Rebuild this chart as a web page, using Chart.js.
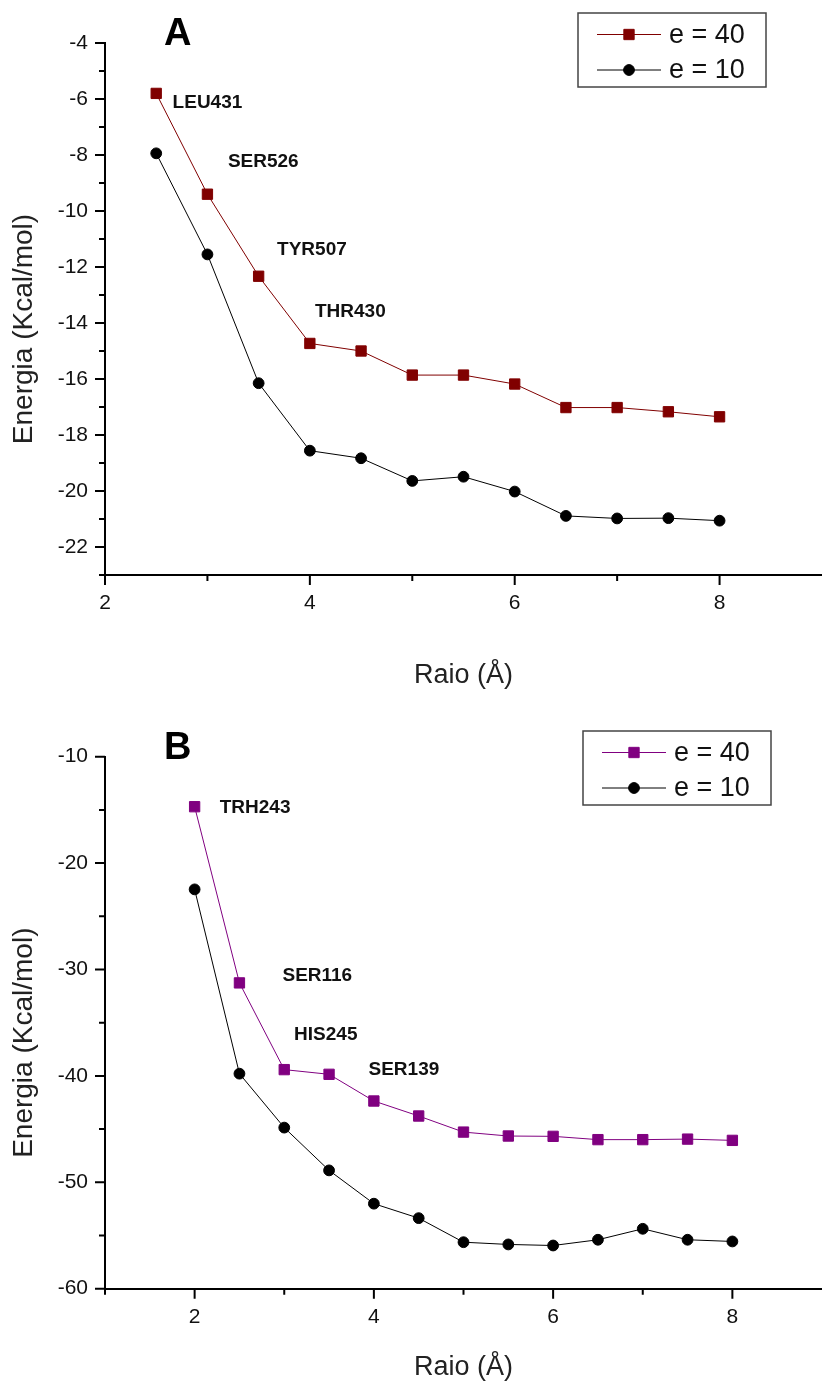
<!DOCTYPE html>
<html lang="pt">
<head>
<meta charset="UTF-8">
<title>Energia x Raio</title>
<style>
    body { margin: 0; background: #fff; }
    canvas { display: block; }
</style>
</head>
<body>
<canvas id="chartA" width="822" height="692"></canvas>
<canvas id="chartB" width="822" height="692"></canvas>

<script src="https://cdn.jsdelivr.net/npm/chart.js"></script>
<script>
    // painel A
    const radiiA = [2.5, 3, 3.5, 4, 4.5, 5, 5.5, 6, 6.5, 7, 7.5, 8];
    const energiaA40 = [-5.8, -9.4, -12.33, -14.73, -15.0, -15.86, -15.86, -16.18, -17.02, -17.02, -17.17, -17.35];
    const energiaA10 = [-7.94, -11.55, -16.15, -18.56, -18.83, -19.64, -19.49, -20.02, -20.89, -20.98, -20.97, -21.06];
    const xMajorA = [2, 4, 6, 8];
    const xMinorA = [3, 5, 7];
    const yMajorA = [-22, -20, -18, -16, -14, -12, -10, -8, -6, -4];
    const yMinorA = [-23, -21, -19, -17, -15, -13, -11, -9, -7, -5];
    const residuesA = ['LEU431', 'SER526', 'TYR507', 'THR430'];
    const residueXA = [2.66, 3.2, 3.68, 4.05];
    const residueYA = [-6.14, -8.25, -11.39, -13.6];

    // painel B
    const radiiB = [2, 2.5, 3, 3.5, 4, 4.5, 5, 5.5, 6, 6.5, 7, 7.5, 8];
    const energiaB40 = [-14.7, -31.26, -39.41, -39.85, -42.36, -43.77, -45.28, -45.65, -45.68, -45.99, -45.99, -45.94, -46.06];
    const energiaB10 = [-22.47, -39.79, -44.86, -48.88, -52.01, -53.37, -55.63, -55.84, -55.94, -55.4, -54.37, -55.4, -55.56];
    const xMajorB = [2, 4, 6, 8];
    const xMinorB = [1, 3, 5, 7];
    const yMajorB = [-60, -50, -40, -30, -20, -10];
    const yMinorB = [-55, -45, -35, -25, -15];
    const residuesB = ['TRH243', 'SER116', 'HIS245', 'SER139'];
    const residueXB = [2.28, 2.98, 3.11, 3.94];
    const residueYB = [-14.83, -30.63, -36.18, -39.47];

    const FONT = 'Arial, "Liberation Sans", sans-serif';

    // ticks, rotulos, letra do painel, titulo y e legenda
    const extras = {
        id: 'extras',
        afterDraw(chart, args, o) {
            const ctx = chart.ctx;
            const area = chart.chartArea;
            const xs = chart.scales.x;
            const ys = chart.scales.y;
            ctx.save();

            ctx.strokeStyle = '#000';
            ctx.lineWidth = 2;
            ctx.beginPath();
            o.majorX.forEach(v => { const p = xs.getPixelForValue(v); ctx.moveTo(p, area.bottom); ctx.lineTo(p, area.bottom + 10); });
            o.minorX.forEach(v => { const p = xs.getPixelForValue(v); ctx.moveTo(p, area.bottom); ctx.lineTo(p, area.bottom + 6); });
            o.majorY.forEach(v => { const p = ys.getPixelForValue(v); ctx.moveTo(area.left, p); ctx.lineTo(area.left - 10, p); });
            o.minorY.forEach(v => { const p = ys.getPixelForValue(v); ctx.moveTo(area.left, p); ctx.lineTo(area.left - 6, p); });
            ctx.stroke();

            ctx.fillStyle = '#111';
            ctx.font = 'bold 19px ' + FONT;
            ctx.textAlign = 'left';
            ctx.textBaseline = 'middle';
            o.residues.forEach((t, i) => {
                ctx.fillText(t, xs.getPixelForValue(o.residueX[i]), ys.getPixelForValue(o.residueY[i]));
            });

            ctx.font = 'bold 38px ' + FONT;
            ctx.textBaseline = 'alphabetic';
            ctx.fillStyle = '#000';
            ctx.fillText(o.panel, area.left + 59, area.top + 2);

            ctx.save();
            ctx.translate(24, (area.top + area.bottom) / 2 + 20);
            ctx.rotate(-Math.PI / 2);
            ctx.font = '28px ' + FONT;
            ctx.textAlign = 'center';
            ctx.textBaseline = 'middle';
            ctx.fillStyle = '#222';
            ctx.fillText('Energia (Kcal/mol)', 0, 0);
            ctx.restore();

            // legenda dentro da area
            const bx = o.legendX, by = o.legendY;
            ctx.strokeStyle = '#444';
            ctx.lineWidth = 1.5;
            ctx.strokeRect(bx, by, 188, 74);
            ctx.font = '27px ' + FONT;
            ctx.textBaseline = 'middle';
            chart.data.datasets.forEach((ds, i) => {
                const ry = by + 21.5 + i * 35.5;
                ctx.strokeStyle = ds.borderColor;
                ctx.lineWidth = 1;
                ctx.beginPath();
                ctx.moveTo(bx + 19, ry);
                ctx.lineTo(bx + 83, ry);
                ctx.stroke();
                ctx.fillStyle = ds.backgroundColor;
                Chart.helpers.drawPoint(ctx, {
                    pointStyle: ds.pointStyle, radius: ds.pointRadius,
                    borderWidth: ds.pointBorderWidth, rotation: 0
                }, bx + 51, ry);
                ctx.fillStyle = '#111';
                ctx.fillText(ds.label, bx + 91, ry + 1);
            });
            ctx.restore();
        }
    };

    function makeChart(id, cfg) {
        const series = (xs, ys) => xs.map((x, i) => ({x: x, y: ys[i]}));
        return new Chart(document.getElementById(id), {
            type: 'line',
            data: {
                datasets: [
                    {
                        label: 'e = 40',
                        data: series(cfg.radii, cfg.e40),
                        borderColor: cfg.color,
                        backgroundColor: cfg.color,
                        borderWidth: 1,
                        pointStyle: 'rect',
                        pointRadius: 7.3,
                        pointBorderWidth: 1
                    },
                    {
                        label: 'e = 10',
                        data: series(cfg.radii, cfg.e10),
                        borderColor: '#000',
                        backgroundColor: '#000',
                        borderWidth: 1,
                        pointStyle: 'circle',
                        pointRadius: 5.4,
                        pointBorderWidth: 1
                    }
                ]
            },
            options: {
                responsive: false,
                animation: false,
                events: [],
                layout: {
                    autoPadding: false,
                    padding: {top: cfg.top, left: 0, right: 0, bottom: 0}
                },
                plugins: {
                    legend: {display: false},
                    tooltip: {enabled: false},
                    extras: {
                        panel: cfg.panel,
                        majorX: cfg.xMajor, minorX: cfg.xMinor,
                        majorY: cfg.yMajor, minorY: cfg.yMinor,
                        residues: cfg.residues, residueX: cfg.residueX, residueY: cfg.residueY,
                        legendX: cfg.legendX, legendY: cfg.legendY
                    }
                },
                scales: {
                    x: {
                        type: 'linear',
                        min: cfg.xMin, max: 9,
                        afterBuildTicks: s => { s.ticks = cfg.xMajor.map(v => ({value: v})); },
                        afterFit: s => {
                            s.height = cfg.xHeight;
                            s.paddingLeft = 0;
                            s.paddingRight = 0;
                        },
                        grid: {display: false, drawTicks: false},
                        border: {display: true, color: '#000', width: 2},
                        ticks: {color: '#111', padding: 16, font: {family: FONT, size: 21}},
                        title: {
                            display: true, text: 'Raio (Å)', color: '#222',
                            font: {family: FONT, size: 27}, padding: {top: cfg.titlePad, bottom: 0}
                        }
                    },
                    y: {
                        type: 'linear',
                        min: cfg.yMin, max: cfg.yMax,
                        afterBuildTicks: s => { s.ticks = cfg.yMajor.map(v => ({value: v})); },
                        afterFit: s => {
                            s.width = 105;
                            s.paddingTop = 0;
                            s.paddingBottom = 0;
                        },
                        grid: {display: false, drawTicks: false},
                        border: {display: true, color: '#000', width: 2},
                        ticks: {color: '#111', padding: 17, font: {family: FONT, size: 21}}
                    }
                }
            },
            plugins: [extras]
        });
    }

    makeChart('chartA', {
        panel: 'A', color: '#800000', top: 43,
        radii: radiiA, e40: energiaA40, e10: energiaA10,
        xMin: 2, yMin: -23, yMax: -4,
        xMajor: xMajorA, xMinor: xMinorA, yMajor: yMajorA, yMinor: yMinorA,
        residues: residuesA, residueX: residueXA, residueY: residueYA,
        xHeight: 117, titlePad: 29,
        legendX: 578, legendY: 13
    });

    makeChart('chartB', {
        panel: 'B', color: '#800080', top: 64.7,
        radii: radiiB, e40: energiaB40, e10: energiaB10,
        xMin: 1, yMin: -60, yMax: -10,
        xMajor: xMajorB, xMinor: xMinorB, yMajor: yMajorB, yMinor: yMinorB,
        residues: residuesB, residueX: residueXB, residueY: residueYB,
        xHeight: 95.3, titlePad: 6.7,
        legendX: 583, legendY: 39
    });
</script>
</body>
</html>
